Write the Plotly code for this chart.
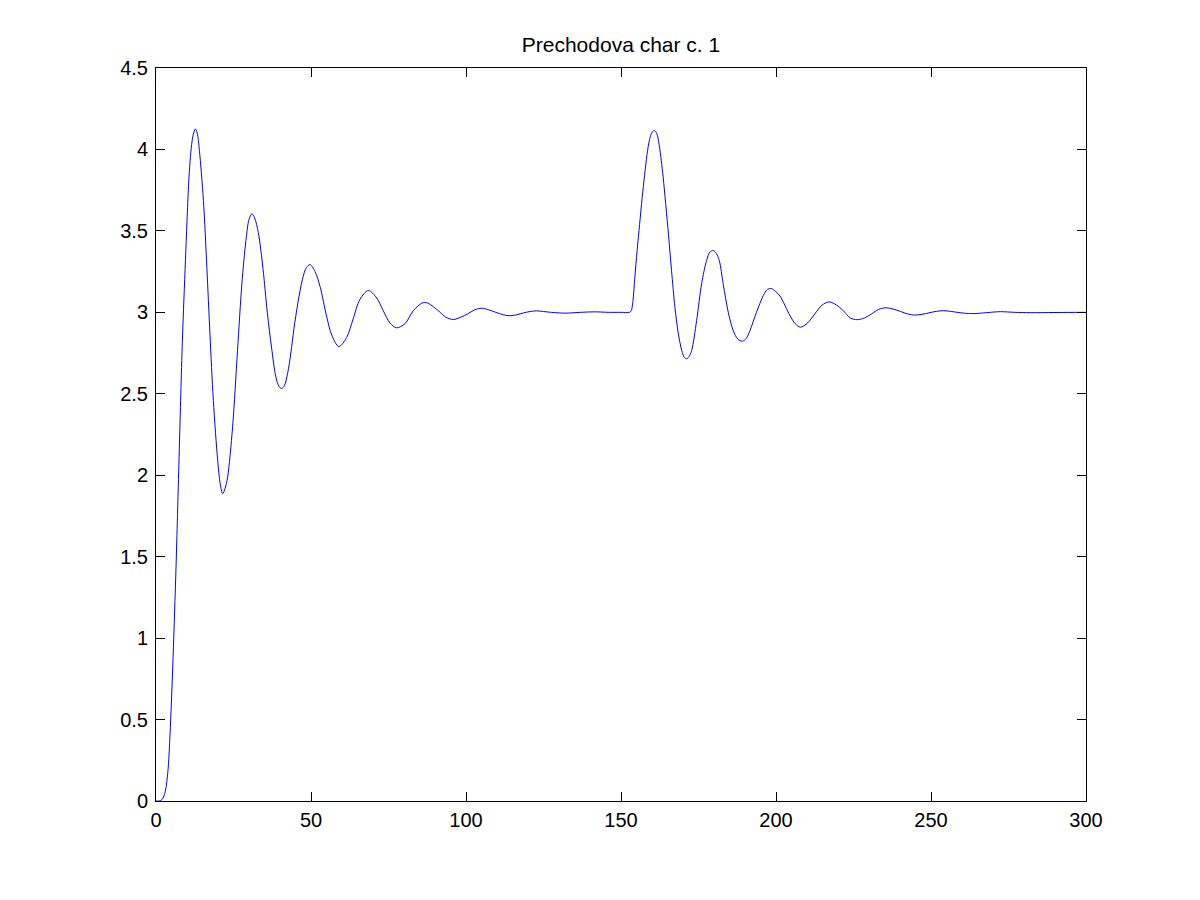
import plotly.graph_objects as go

# values (time, output)
t = [
    0, 1, 2, 3, 3.5, 4, 4.5, 5, 5.5, 6, 6.5, 7, 7.5, 8, 8.5, 9, 9.5, 10, 10.5, 11,
    11.5, 12, 12.7, 13.3, 14.0, 15.3, 16.4, 17.4, 18.5, 19.9, 20.7, 21.5, 22.3,
    23.1, 24.7, 26.3, 27.7, 29.0, 30.0, 30.9, 31.8, 33, 34.5, 35.9, 37.3, 38.7,
    39.7, 40.5, 41.4, 42.5, 43.5, 44.5, 45.8, 47.2, 48.5, 49.7, 51.3, 52.9, 55.1,
    56.7, 59.0, 61.5, 63.6, 65.8, 68.5, 71.2, 73.3, 75.5, 77.6, 80.3, 83.0, 85.7,
    86.7, 87.8, 91.2, 93.5, 95.9, 98.3, 100.5, 102.8, 105.1, 107.4, 109.6, 112,
    114.2, 116.4, 118.5, 120.7, 122.8, 125, 127.5, 132, 137, 141.5, 146, 150, 152.7,
    153.3, 153.8, 154.4, 155.2, 156, 156.8, 157.6, 158.4, 159.2, 160, 160.75,
    161.5, 162.3, 163, 163.6, 165.3, 166.3, 167.4, 168.5, 169.6, 170.4, 171.2,
    172, 172.8, 174.4, 176.0, 177.6, 178.7, 179.8, 180.8, 181.7, 183.0, 184.6,
    186.2, 187.7, 189.2, 190.4, 191.6, 193.7, 195.9, 197.2, 198.5, 199.9, 201.3,
    204.5, 206.2, 207.9, 210.2, 212.5, 214.9, 217.2, 219.5, 221.7, 224, 226.2,
    228.5, 230.8, 233.1, 235.5, 237.8, 240.2, 242.5, 244.8, 247.1, 249.4, 251.7,
    254, 256.4, 258.8, 261.2, 263.6, 266, 268, 270.3, 272.5, 277, 282, 290, 300,
]
y = [
    0, 0, 0.01, 0.06, 0.12, 0.22, 0.4, 0.62, 0.88, 1.16, 1.46, 1.8, 2.15, 2.5,
    2.82, 3.08, 3.32, 3.56, 3.78, 3.93, 4.03, 4.09, 4.126, 4.1, 3.993, 3.686,
    3.277, 2.868, 2.459, 2.09, 1.95, 1.886, 1.92, 1.988, 2.295, 2.766, 3.175,
    3.44, 3.57, 3.605, 3.58, 3.49, 3.27, 3.0, 2.78, 2.6, 2.545, 2.532, 2.55,
    2.63, 2.75, 2.9, 3.06, 3.2, 3.275, 3.293, 3.25, 3.16, 2.97, 2.86, 2.79,
    2.846, 2.96, 3.08, 3.134, 3.088, 3.01, 2.934, 2.905, 2.93, 3.01, 3.056,
    3.06, 3.056, 3.008, 2.97, 2.956, 2.97, 2.99, 3.015, 3.025, 3.015, 3.0, 2.985,
    2.979, 2.985, 2.996, 3.005, 3.009, 3.005, 3.0, 2.995, 3.0, 3.003, 3.0, 3.0, 3.0,
    3.01, 3.06, 3.2, 3.38, 3.54, 3.7, 3.84, 3.97, 4.06, 4.105, 4.116,
    4.1, 4.03, 3.93, 3.83, 3.48, 3.257, 3.03, 2.868, 2.766, 2.725, 2.715,
    2.73, 2.766, 2.95, 3.175, 3.318, 3.37, 3.38, 3.36, 3.318, 3.17, 3.0,
    2.888, 2.835, 2.823, 2.84, 2.888, 3.0, 3.103, 3.14, 3.146, 3.128, 3.1,
    2.98, 2.93, 2.909, 2.935, 2.99, 3.045, 3.064, 3.045, 3.01, 2.965, 2.955,
    2.965, 2.99, 3.018, 3.028, 3.02, 3.005, 2.99, 2.983, 2.988, 2.997, 3.006,
    3.01, 3.006, 2.999, 2.994, 2.992, 2.995, 2.998, 3.002, 3.004, 3.0, 2.998, 2.999, 3.0,
]

x_ticks = [0, 50, 100, 150, 200, 250, 300]
y_ticks = [0, 0.5, 1, 1.5, 2, 2.5, 3, 3.5, 4, 4.5]

FONT = "Liberation Sans, Arial, Helvetica, sans-serif"

fig = go.Figure()
fig.add_trace(go.Scatter(
    x=t, y=y, mode="lines",
    line=dict(color="#0000ff", width=1, shape="spline", smoothing=0.9),
    showlegend=False, hoverinfo="skip",
))

axis_style = dict(
    showline=True, linecolor="black", linewidth=1, mirror="allticks",
    ticks="inside", ticklen=9, tickcolor="black", tickwidth=1,
    showgrid=False, zeroline=False,
    tickfont=dict(family=FONT, size=20, color="black"),
)

fig.update_xaxes(range=[0, 300], tickvals=x_ticks, ticklabelstandoff=1, **axis_style)
fig.update_yaxes(range=[0, 4.5], tickvals=y_ticks, ticklabelstandoff=3, **axis_style)

# page adds an 8px body margin, so offsets below are shifted by 8
fig.update_layout(
    width=1200, height=900, autosize=False,
    paper_bgcolor="white", plot_bgcolor="white",
    margin=dict(l=148, r=122, t=60, b=107),
    title=dict(
        text="Prechodova char c. 1",
        x=0.5, xref="paper", y=1 - 37 / 900, yref="container",
        xanchor="center", yanchor="middle",
        font=dict(family=FONT, size=21, color="black"),
    ),
)

fig.write_html("out.html")
